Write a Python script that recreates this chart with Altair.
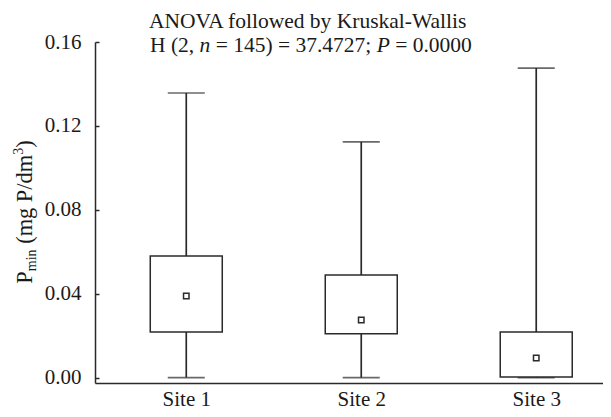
import altair as alt
import pandas as pd

# ---- data ----
sites = ["Site 1", "Site 2", "Site 3"]
site_idx = [1, 2, 3]
lower = [0.0002, 0.0002, 0.0001]
q1 = [0.0219, 0.0210, 0.0005]
median = [0.0390, 0.0276, 0.0095]
q3 = [0.0581, 0.0490, 0.0219]
upper = [0.1357, 0.1124, 0.1476]
y_ticks = [0.00, 0.04, 0.08, 0.12, 0.16]

title_line1 = "ANOVA followed by Kruskal-Wallis"
title_line2 = [("H (2, ", False), ("n", True), (" = 145) = 37.4727; ", False),
               ("P", True), (" = 0.0000", False)]
ytitle_parts = [("P", "main"), ("min", "sub"), (" (mg P/dm", "main"),
                ("3", "sup"), (")", "main")]

df = pd.DataFrame({"idx": site_idx, "site": sites, "lower": lower, "q1": q1,
                   "median": median, "q3": q3, "upper": upper})

FONT = "Liberation Serif"
LINE = "#2a2a2a"
TXT = "#1a1a1a"
FS = 21
FS_TITLE = 21.5
FS_YT = 22.4
FS_SMALL = 14
W, H = 508, 341

# Times / Liberation Serif advance widths (1/1000 em) for text layout
REG = {' ': 250, '(': 333, ')': 333, ',': 250, '.': 250, ';': 278, '=': 564,
       '/': 278, 'H': 722, 'P': 556, 'g': 500, 'd': 500, 'm': 778, 'i': 278,
       'n': 500}
for c in "0123456789":
    REG[c] = 500
ITA = {'n': 500, 'P': 611}


def width(s, size, italic=False):
    tbl = ITA if italic else REG
    return sum(tbl.get(c, 500) for c in s) * size / 1000.0


xscale = alt.Scale(domain=[0.507, 3.353], nice=False, zero=False)
yscale = alt.Scale(domain=[-0.0024, 0.16], nice=False, zero=False)

label_expr = "[" + ",".join("'%s'" % s for s in sites) + "][datum.value - 1]"
x_axis = alt.Axis(values=site_idx, labelExpr=label_expr, ticks=False, tickSize=0,
                  grid=False, title=None, domainColor=LINE, domainWidth=1.5,
                  labelFont=FONT, labelFontSize=FS, labelColor=TXT, labelPadding=5)
y_axis = alt.Axis(orient="left", values=y_ticks, format=".2f", ticks=False,
                  tickSize=0, grid=False, title=None, domainColor=LINE,
                  domainWidth=1.5, labelFont=FONT, labelFontSize=FS,
                  labelColor=TXT, labelPadding=14)
tick_axis = alt.Axis(orient="left", offset=-4, values=y_ticks, domain=False,
                     labels=False, ticks=True, tickSize=4, tickWidth=1.5,
                     tickColor=LINE, grid=False, title=None)

X = alt.X("idx:Q", scale=xscale, axis=x_axis)


def Y(field):
    return alt.Y(field + ":Q", scale=yscale, axis=y_axis)


base = alt.Chart(df)
whisk = base.mark_rule(color=LINE, strokeWidth=1.7).encode(
    x=X, y=Y("lower"), y2=alt.Y2("upper"))
box = base.mark_bar(size=72, fill="white", stroke=LINE, strokeWidth=1.5).encode(
    x=X, y=Y("q1"), y2=alt.Y2("q3"))
cap_up = base.mark_tick(orient="horizontal", size=37, thickness=1.7, color=LINE).encode(
    x=X, y=Y("upper"))
cap_lo = base.mark_tick(orient="horizontal", size=37, thickness=1.7, color=LINE).encode(
    x=X, y=Y("lower"))
med = base.mark_point(shape="square", size=30, filled=False, color=LINE,
                      strokeWidth=1.5, opacity=1).encode(x=X, y=Y("median"))

data_layers = alt.layer(whisk, box, cap_up, cap_lo, med)

tick_layer = base.mark_point(opacity=0).encode(
    x=X, y=alt.Y("upper:Q", scale=yscale, axis=tick_axis))


def text_layer(txt, x, y, size, italic=False, angle=None):
    mk = dict(text=txt, font=FONT, fontSize=size, align="left",
              baseline="alphabetic", color=TXT)
    if italic:
        mk["fontStyle"] = "italic"
    if angle is not None:
        mk["angle"] = angle
    return alt.Chart(alt.Data(values=[{"k": 0}])).mark_text(**mk).encode(
        x=alt.value(x), y=alt.value(y))


texts = []
# title line 1
TX = 54
texts.append(text_layer(title_line1, TX, -14, FS_TITLE))
# title line 2 with italic parts
cx = TX + 1
for s, it in title_line2:
    lead = len(s) - len(s.lstrip(" "))
    texts.append(text_layer(s.strip(" "), cx + width(" " * lead, FS_TITLE), 10,
                            FS_TITLE, italic=it))
    cx += width(s, FS_TITLE, it)

# rotated y title with subscript / superscript
sizes = {"main": FS_YT, "sub": FS_SMALL, "sup": FS_SMALL}
shift = {"main": 0, "sub": 4, "sup": -9}
total = sum(width(s, sizes[k]) for s, k in ytitle_parts)
ystart = 170 + total / 2
XB = -63
cy = ystart
for s, k in ytitle_parts:
    lead = len(s) - len(s.lstrip(" "))
    texts.append(text_layer(s.strip(" "), XB + shift[k],
                            cy - width(" " * lead, sizes[k]), sizes[k], angle=270))
    cy -= width(s, sizes[k])

chart = alt.layer(data_layers, tick_layer, *texts).resolve_scale(
    y="independent"
).properties(
    width=W, height=H,
    padding={"left": 87, "top": 34, "right": 0, "bottom": 26},
    autosize=alt.AutoSizeParams(type="none"),
).configure_view(stroke=None).configure_axis(
    labelFont=FONT, labelColor=TXT
).configure_text(font=FONT)

chart.save("out.html", embed_options={"renderer": "svg", "actions": False})
